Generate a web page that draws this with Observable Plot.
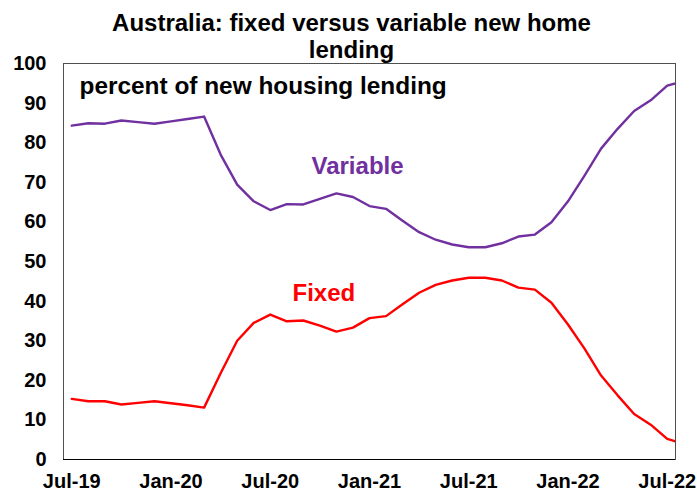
<!DOCTYPE html>
<html>
<head>
<meta charset="utf-8">
<script src="https://cdn.jsdelivr.net/npm/d3@7"></script>
<script src="https://cdn.jsdelivr.net/npm/@observablehq/plot@0.6"></script>
<style>
  html, body { margin: 0; padding: 0; background: #fff; }
</style>
</head>
<body>
<div id="chart"></div>
<script>
const months = ["Jul-19","Aug-19","Sep-19","Oct-19","Nov-19","Dec-19","Jan-20","Feb-20","Mar-20","Apr-20","May-20","Jun-20",
  "Jul-20","Aug-20","Sep-20","Oct-20","Nov-20","Dec-20","Jan-21","Feb-21","Mar-21","Apr-21","May-21","Jun-21",
  "Jul-21","Aug-21","Sep-21","Oct-21","Nov-21","Dec-21","Jan-22","Feb-22","Mar-22","Apr-22","May-22","Jun-22",
  "Jul-22","Aug-22"];
const variable = [84.3, 84.9, 84.8, 85.6, 85.2, 84.8, 85.4, 86.0, 86.6, 77.0, 69.4, 65.2,
  63.0, 64.5, 64.4, 65.8, 67.2, 66.3, 64.0, 63.3, 60.3, 57.4, 55.5, 54.3,
  53.6, 53.6, 54.6, 56.3, 56.8, 59.9, 65.2, 71.7, 78.5, 83.5, 88.0, 90.7,
  94.4, 95.6];
const fixed = [15.3, 14.7, 14.7, 13.9, 14.3, 14.7, 14.2, 13.7, 13.1, 21.8, 30.0, 34.5,
  36.6, 34.9, 35.1, 33.8, 32.3, 33.3, 35.7, 36.2, 39.2, 42.1, 44.1, 45.2,
  45.9, 45.9, 45.2, 43.4, 42.9, 39.6, 34.1, 28.0, 21.2, 16.2, 11.5, 8.8,
  5.2, 4.0];
const xTickMonths = ["Jul-19","Jan-20","Jul-20","Jan-21","Jul-21","Jan-22","Jul-22"];
const yTicks = [0,10,20,30,40,50,60,70,80,90,100];

const title = "Australia: fixed versus variable new home\nlending";
const subtitle = "percent of new housing lending";

const rows = months.map((m, i) => ({i, month: m, variable: variable[i], fixed: fixed[i]}));
const font = "'Liberation Sans', Arial, Helvetica, sans-serif";

const chart = Plot.plot({
  width: 697,
  height: 492,
  marginLeft: 63,
  marginRight: 22,
  marginTop: 63,
  marginBottom: 33,
  style: {fontFamily: font, fontSize: "20px", fontWeight: "bold", color: "#000", background: "#fff"},
  x: {type: "linear", domain: [-0.5, 36.5], ticks: xTickMonths.map(m => months.indexOf(m)),
      tickFormat: i => months[i], tickSize: 0, tickPadding: 14, label: null},
  y: {domain: [0, 100], ticks: yTicks, tickSize: 0, tickPadding: 17, label: null},
  marks: [
    Plot.frame({stroke: "#505050", strokeWidth: 1}),
    Plot.ruleY([0], {stroke: "#000", strokeWidth: 1}),
    Plot.line(rows, {x: "i", y: "variable", stroke: "#7030A0", strokeWidth: 2.4, clip: true}),
    Plot.line(rows, {x: "i", y: "fixed", stroke: "#FF0000", strokeWidth: 2.4, clip: true}),
    Plot.text([title], {frameAnchor: "top", dx: -18, dy: -51, lineAnchor: "top", lineHeight: 1.1,
      fontSize: 24, fontWeight: "bold", fill: "#000", fontFamily: font}),
    Plot.text([subtitle], {frameAnchor: "top-left", dx: 16, dy: 13, lineAnchor: "top", textAnchor: "start",
      fontSize: 24.4, fontWeight: "bold", fill: "#000", fontFamily: font}),
    Plot.text(["Variable"], {frameAnchor: "top-left", dx: 248, dy: 93, lineAnchor: "top", textAnchor: "start",
      fontSize: 24, fontWeight: "bold", fill: "#7030A0", fontFamily: font}),
    Plot.text(["Fixed"], {frameAnchor: "top-left", dx: 229, dy: 220, lineAnchor: "top", textAnchor: "start",
      fontSize: 24, fontWeight: "bold", fill: "#FF0000", fontFamily: font})
  ]
});
document.getElementById("chart").appendChild(chart);
</script>
</body>
</html>
